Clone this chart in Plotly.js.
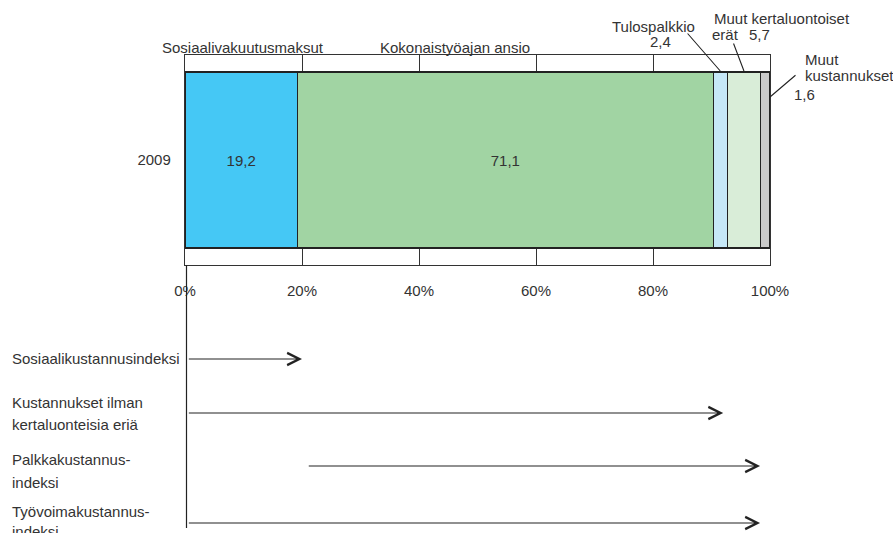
<!DOCTYPE html>
<html>
<head>
<meta charset="utf-8">
<script src="https://cdn.plot.ly/plotly-3.0.1.min.js"></script>
<style>html,body{margin:0;padding:0;background:#fff;}#chart{width:893px;height:533px;}</style>
</head>
<body>
<div id="chart"></div>
<script>
// ---- data ----
const years = ['2009'];
const componentNames = ['Sosiaalivakuutusmaksut', 'Kokonaistyöajan ansio', 'Tulospalkkio', 'Muut kertaluontoiset erät', 'Muut kustannukset'];
const componentValues = [19.2, 71.1, 2.4, 5.7, 1.6];
const componentColors = ['#45C8F5', '#A1D4A3', '#C6E8F7', '#D9EDD8', '#C9C9C9'];
const tickValues = [0, 20, 40, 60, 80, 100];
const tickLabels = ['0%', '20%', '40%', '60%', '80%', '100%'];
const indexNames = ['Sosiaalikustannusindeksi', 'Kustannukset ilman kertaluonteisia eriä', 'Palkkakustannusindeksi', 'Työvoimakustannusindeksi'];
const indexStart = [0.4, 0.4, 20.9, 0.4];
const indexEnd = [20.0, 92.0, 98.3, 98.3];

// ---- helpers (layout placement only) ----
const FONT = 'Liberation Sans, Arial, sans-serif';
const FS = 15;
const TXT = '#333333';
const fmt = v => v.toFixed(1).replace('.', ',');
const PX = p => (p - 185) / 585;      // pixel x -> paper x
const PY = p => (265 - p) / 210;      // pixel y -> paper y

// ---- traces ----
const traces = componentNames.map((name, i) => ({
  type: 'bar',
  orientation: 'h',
  name: name,
  y: years,
  x: [componentValues[i]],
  marker: { color: componentColors[i], line: { color: '#222', width: 1.2 } },
  text: i < 2 ? [fmt(componentValues[i])] : [''],
  textposition: i < 2 ? 'inside' : 'none',
  insidetextanchor: 'middle',
  textangle: 0,
  textfont: { family: FONT, size: FS, color: TXT },
  hoverinfo: 'skip'
}));

// cumulative starts
const cum = [];
componentValues.reduce((acc, v, i) => { cum[i] = acc; return acc + v; }, 0);

const ann = [];
const txt = (text, x, y, anchor) => ann.push({
  xref: 'paper', yref: 'paper', x: PX(x), y: PY(y), text: text, showarrow: false,
  xanchor: anchor || 'left', yanchor: 'middle', font: { family: FONT, size: FS, color: TXT }
});

// labels above the bar
txt(componentNames[0], 160, 48);
txt(componentNames[1], 378, 48);
txt(componentNames[2], 653, 26, 'center');
txt(fmt(componentValues[2]), 660, 41, 'center');
txt('Muut kertaluontoiset', 712, 19);
txt('erät', 710, 35);
txt(fmt(componentValues[3]), 747, 35);
txt('Muut', 803, 59);
txt('kustannukset', 803, 75);
txt(fmt(componentValues[4]), 792, 94);

// leader lines
const leader = (xData, yPix, ax, ay) => ann.push({
  xref: 'x', yref: 'paper', x: xData, y: PY(yPix), text: '', showarrow: true,
  arrowhead: 0, arrowwidth: 1.1, arrowcolor: '#222', ax: ax, ay: ay, standoff: 0, startstandoff: 0
});
leader(cum[2] + componentValues[2] * 0.5, 71, -34, -39);
leader(cum[3] + componentValues[3] * 0.5, 71, -11, -29);
leader(cum[4] + componentValues[4], 97, 27, -23);

// index labels below
txt('Sosiaalikustannusindeksi', 10, 358);
txt('Kustannukset ilman', 10, 402);
txt('kertaluonteisia eriä', 10, 424);
txt('Palkkakustannus-', 10, 459);
txt('indeksi', 10, 482);
txt('Työvoimakustannus-', 10, 511);
txt('indeksi', 10, 531);

// index arrows
const arrowY = [359, 413, 466, 523];
indexNames.forEach((n, i) => ann.push({
  xref: 'x', yref: 'paper', axref: 'x', ayref: 'pixel',
  x: indexEnd[i], y: PY(arrowY[i]), ax: indexStart[i], ay: 0,
  text: '', showarrow: true, arrowhead: 5, arrowsize: 2, arrowwidth: 1.2, arrowcolor: '#222',
  standoff: 0, startstandoff: 0
}));

const layout = {
  width: 893, height: 533,
  margin: { l: 185, r: 123, t: 55, b: 268 },
  paper_bgcolor: '#fff', plot_bgcolor: '#fff',
  barmode: 'stack', bargap: 0.162,
  showlegend: false,
  font: { family: FONT, size: FS, color: TXT },
  uniformtext: { mode: 'show', minsize: FS },
  xaxis: {
    range: [0, 100], tickvals: tickValues, ticktext: tickLabels,
    showgrid: true, gridcolor: '#333', gridwidth: 1,
    showline: true, linecolor: '#333', linewidth: 1.2, mirror: true,
    ticks: 'outside', ticklen: 12, tickcolor: 'rgba(0,0,0,0)',
    zeroline: false, fixedrange: true,
    tickfont: { family: FONT, size: FS, color: TXT }
  },
  yaxis: {
    type: 'category', range: [-0.5, 0.5], showgrid: false, zeroline: false,
    showline: true, linecolor: '#333', linewidth: 1.2, mirror: true,
    ticks: 'outside', ticklen: 10, tickcolor: 'rgba(0,0,0,0)',
    fixedrange: true, tickfont: { family: FONT, size: FS, color: TXT }
  },
  shapes: [{
    type: 'line', xref: 'paper', yref: 'paper',
    x0: PX(186.5), x1: PX(186.5), y0: 0, y1: PY(528),
    line: { color: '#222', width: 1.2 }
  }],
  annotations: ann
};

Plotly.newPlot('chart', traces, layout, { displayModeBar: false, staticPlot: true });
</script>
</body>
</html>
